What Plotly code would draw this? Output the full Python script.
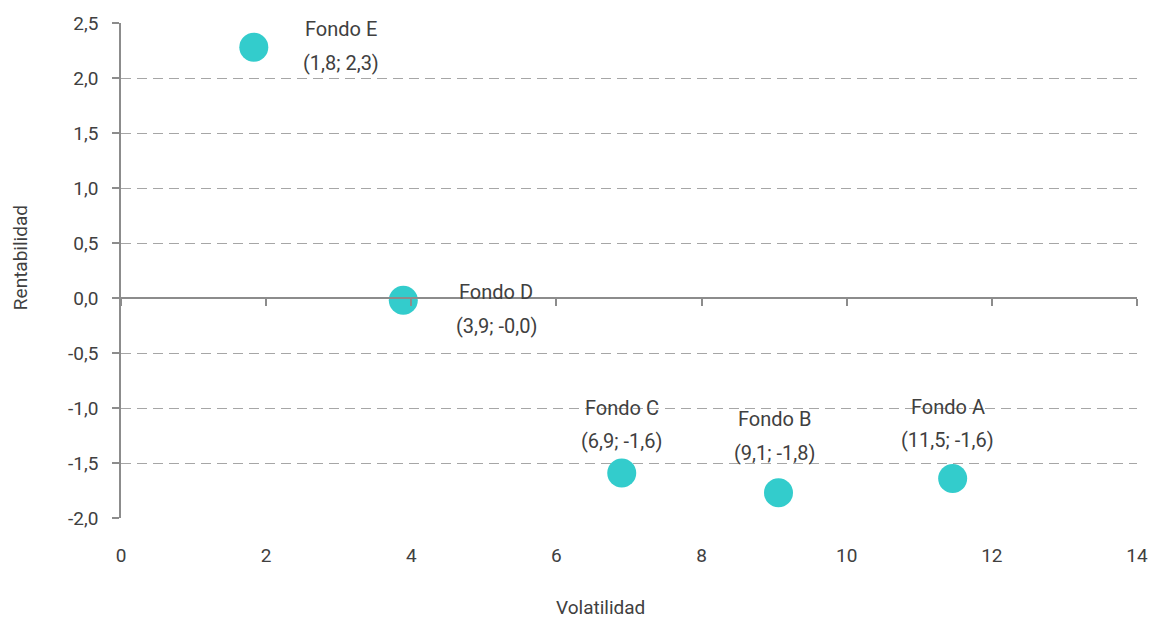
import plotly.graph_objects as go

# Data
fondos = ["Fondo E", "Fondo D", "Fondo C", "Fondo B", "Fondo A"]
volatilidad = [1.83, 3.89, 6.90, 9.06, 11.46]
rentabilidad = [2.28, -0.02, -1.59, -1.77, -1.64]

x_ticks = [0, 2, 4, 6, 8, 10, 12, 14]
y_ticks = [-2.0, -1.5, -1.0, -0.5, 0.0, 0.5, 1.0, 1.5, 2.0, 2.5]
y_tick_labels = ["-2,0", "-1,5", "-1,0", "-0,5", "0,0", "0,5", "1,0", "1,5", "2,0", "2,5"]

# label placement offsets (pixels): (xshift, yshift line1, yshift line2)
label_offsets = [(87, 18, -16), (93, 8, -26), (0, 65, 32), (-4, 74, 40), (-5, 71, 38)]

FONT = "Roboto"
TXT = "#404040"
GRID = "#a6a6a6"
AXIS = "#8c8c8c"
FS = 19

def fmt(v):
    return f"{v:.1f}".replace(".", ",")

fig = go.Figure()
fig.add_trace(go.Scatter(
    x=volatilidad, y=rentabilidad, mode="markers",
    marker=dict(size=29, color="#33CCCC", line=dict(width=0)),
    showlegend=False, hoverinfo="skip",
))
# helper trace for the axis drawn at y=0
fig.add_trace(go.Scatter(x=[None], y=[None], xaxis="x2", yaxis="y",
                         showlegend=False, hoverinfo="skip"))

xr = [x_ticks[0], x_ticks[-1]]
yr = [y_ticks[0], y_ticks[-1]]
zero_pos = (0 - yr[0]) / (yr[1] - yr[0])

annotations = []
for name, xv, yv, (dx, dy1, dy2) in zip(fondos, volatilidad, rentabilidad, label_offsets):
    for txt, dy in ((name, dy1), (f"({fmt(xv)}; {fmt(yv)})", dy2)):
        annotations.append(dict(
            x=xv, y=yv, xref="x", yref="y", text=txt, showarrow=False,
            xshift=dx, yshift=dy, font=dict(family=FONT, size=20, color=TXT),
            xanchor="center", yanchor="middle",
        ))

annotations.append(dict(text="Volatilidad", xref="paper", yref="paper", x=0.4724, y=0,
                        yshift=-89, showarrow=False, xanchor="center", yanchor="middle",
                        font=dict(family=FONT, size=FS, color=TXT)))
annotations.append(dict(text="Rentabilidad", xref="paper", yref="paper", x=0, y=0.525,
                        xshift=-101, showarrow=False, textangle=-90,
                        xanchor="center", yanchor="middle",
                        font=dict(family=FONT, size=FS, color=TXT)))

fig.update_layout(
    width=1149, height=618,
    margin=dict(l=121, r=12, t=23, b=100, autoexpand=False),
    paper_bgcolor="white", plot_bgcolor="white",
    font=dict(family=FONT, size=FS, color=TXT),
    xaxis=dict(
        range=xr, tickvals=x_ticks, showgrid=False, zeroline=False, showline=False,
        ticks="", ticklabelstandoff=24, tickfont=dict(size=FS, color=TXT),
        automargin=False,
    ),
    xaxis2=dict(
        overlaying="x", anchor="free", position=zero_pos, range=xr, tickvals=x_ticks,
        showgrid=False, zeroline=False, showline=True, linecolor=AXIS, linewidth=1.5,
        ticks="outside", ticklen=7, tickcolor=AXIS, tickwidth=1.5, showticklabels=False,
        side="bottom", automargin=False,
    ),
    yaxis=dict(
        range=yr, tickvals=y_ticks, ticktext=y_tick_labels,
        showgrid=True, gridcolor=GRID, griddash="10px,6px", gridwidth=1,
        zeroline=False, showline=True, linecolor=AXIS, linewidth=1.5,
        ticks="outside", ticklen=7, tickcolor=AXIS, tickwidth=1.5,
        ticklabelstandoff=10, tickfont=dict(size=FS, color=TXT), automargin=False,
    ),
    annotations=annotations,
)

fig.write_html("out.html", config={"displayModeBar": False},
               post_script="document.body.style.margin='0';")
